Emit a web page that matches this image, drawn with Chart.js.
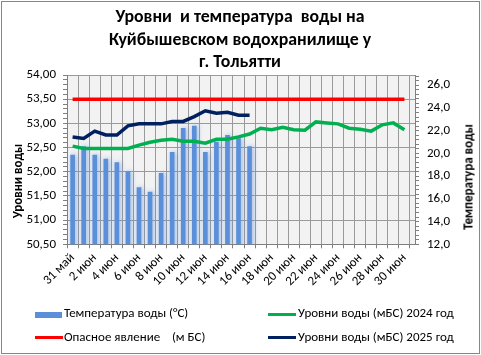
<!DOCTYPE html>
<html>
<head>
<meta charset="utf-8">
<script src="https://cdn.jsdelivr.net/npm/chart.js@4/dist/chart.umd.min.js"></script>
<style>
  html, body { margin:0; padding:0; background:#fff; }
  #wrap { position:relative; width:481px; height:355px; overflow:hidden; font-family: Carlito, Roboto, "Liberation Sans", sans-serif; color:#000; }
  #c { position:absolute; left:0; top:0; }
  #frame { position:absolute; left:1px; top:1px; width:479px; height:353px; box-sizing:border-box; border:1px solid #868686; pointer-events:none; }
  .title { position:absolute; left:40px; width:400px; text-align:center; font-weight:bold; font-size:17.8px; line-height:22.5px; top:5px; white-space:nowrap; }
  .axt { position:absolute; font-weight:bold; font-size:13px; white-space:nowrap; transform:translate(-50%,-50%) rotate(-90deg); }
  .leg { position:absolute; font-size:13px; white-space:nowrap; line-height:16px; }
  .sw { position:absolute; }
</style>
</head>
<body>
<div id="wrap">
  <canvas id="c" width="481" height="355"></canvas>
  <div class="title">Уровни&nbsp; и температура&nbsp; воды на<br>Куйбышевском водохранилище у<br>г. Тольятти</div>
  <div class="axt" style="left:17px; top:181px;">Уровни воды</div>
  <div class="axt" style="left:468px; top:177px;">Температура воды</div>

  <div class="sw" style="left:35px; top:312px; width:27px; height:6px; background:#5b8fd9;"></div>
  <div class="leg" style="left:64px; top:305px;">Температура воды (°С)</div>
  <div class="sw" style="left:35px; top:336px; width:28px; height:3px; background:#ff0000;"></div>
  <div class="leg" style="left:64px; top:329px;">Опасное явление&nbsp;&nbsp;&nbsp; (м БС)</div>
  <div class="sw" style="left:268px; top:313px; width:28px; height:3px; background:#00b050;"></div>
  <div class="leg" style="left:298px; top:305px;">Уровни воды (мБС) 2024 год</div>
  <div class="sw" style="left:268px; top:336px; width:28px; height:3px; background:#002060;"></div>
  <div class="leg" style="left:298px; top:329px;">Уровни воды (мБС) 2025 год</div>
  <div id="frame"></div>
</div>
<script>
const categories = ['31 май','1 июн','2 июн','3 июн','4 июн','5 июн','6 июн','7 июн','8 июн','9 июн','10 июн',
  '11 июн','12 июн','13 июн','14 июн','15 июн','16 июн','17 июн','18 июн','19 июн','20 июн',
  '21 июн','22 июн','23 июн','24 июн','25 июн','26 июн','27 июн','28 июн','29 июн','30 июн'];
const temperature = [19.85, 20.6, 19.85, 19.5, 19.2, 18.4, 17.0, 16.6, 18.25, 20.1, 22.2, 22.4, 20.1, 21.0, 21.6, 21.3, 20.6];
const level2025 = [52.72, 52.69, 52.84, 52.76, 52.76, 52.95, 52.99, 52.99, 52.99, 53.04, 53.04, 53.14, 53.26, 53.21, 53.23, 53.17, 53.17];
const level2024 = [52.53, 52.48, 52.48, 52.48, 52.48, 52.48, 52.55, 52.61, 52.65, 52.67, 52.63, 52.63, 52.59, 52.67, 52.67,
  52.72, 52.78, 52.90, 52.87, 52.92, 52.87, 52.86, 53.03, 53.01, 52.99, 52.90, 52.88, 52.84, 52.97, 53.01, 52.87];
const dangerLevel = 53.5;
const dangerSeries = categories.map(() => dangerLevel);
const levelTickLabels = ['50,50','51,00','51,50','52,00','52,50','53,00','53,50','54,00'];
const tempTickLabels = ['12,0','14,0','16,0','18,0','20,0','22,0','24,0','26,0'];

const FONT = 'Carlito, Roboto, "Liberation Sans", sans-serif';
const pts = arr => arr.map((v, i) => ({x: i, y: v}));
const near = (a, b) => Math.abs(a - b) < 1e-6;

const plotBg = {
  id: 'plotBg',
  beforeDraw(chart) {
    const {ctx, chartArea: a} = chart;
    ctx.save();
    ctx.fillStyle = '#ffffff';
    ctx.fillRect(0, 0, chart.width, chart.height);
    ctx.fillStyle = '#f2f2f2';
    ctx.fillRect(a.left, a.top, a.right - a.left, a.bottom - a.top);
    ctx.restore();
  },
  beforeDatasetDraw(chart, args) {
    if (chart.data.datasets[args.index].type === 'bar') {
      const ctx = chart.ctx;
      ctx.save();
      ctx.shadowColor = 'rgba(91,143,217,0.6)';
      ctx.shadowBlur = 5;
      ctx.shadowOffsetX = 1.5;
    }
  },
  afterDatasetDraw(chart, args) {
    if (chart.data.datasets[args.index].type === 'bar') chart.ctx.restore();
  }
};

new Chart(document.getElementById('c'), {
  data: {
    datasets: [
      { type:'line', label:'Опасное явление (м БС)', data: pts(dangerSeries), yAxisID:'y', borderColor:'#ff0000', borderWidth:3.5, pointRadius:0, tension:0, order:3 },
      { type:'line', label:'Уровни воды (мБС) 2024 год', data: pts(level2024), yAxisID:'y', borderColor:'#00b050', borderWidth:3.5, pointRadius:0, tension:0, order:2 },
      { type:'line', label:'Уровни воды (мБС) 2025 год', data: pts(level2025), yAxisID:'y', borderColor:'#002060', borderWidth:3.5, pointRadius:0, tension:0, order:1 },
      { type:'bar', label:'Температура воды (°С)', data: pts(temperature), yAxisID:'y2', backgroundColor:'#5b8fd9', barThickness:4, order:10 }
    ]
  },
  options: {
    responsive:false,
    animation:false,
    layout:{ padding:{ left:0, right:0, top:75, bottom:0 } },
    plugins:{ legend:{display:false}, title:{display:false}, tooltip:{enabled:false} },
    scales:{
      x:{
        type:'linear', min:0, max:30.45,
        afterBuildTicks: s => { s.ticks = categories.map((_, i) => ({value:i})); },
        afterFit: s => { s.height = 110.7; },
        ticks:{ autoSkip:false, minRotation:45, maxRotation:45, padding:2, color:'#000',
          font:{family:FONT, size:13},
          callback:(v, i) => (i % 2 === 0 ? categories[i] : '') },
        grid:{ color:'#9a9a9a', tickColor:'#7f7f7f', tickLength:4, lineWidth:1 },
        border:{ color:'#7f7f7f' }
      },
      y:{
        type:'linear', position:'left', min:50.5, max:54,
        afterBuildTicks: s => { const t=[]; for (let k=0;k<=35;k++) t.push({value: Math.round((50.5 + k*0.1)*100)/100}); s.ticks=t; },
        afterFit: s => { s.width = 67; },
        ticks:{ autoSkip:false, padding:7, color:'#000', font:{family:FONT, size:13},
          callback:(v) => { const k=(v-50.5)/0.5; return near(k, Math.round(k)) ? levelTickLabels[Math.round(k)] : ''; } },
        grid:{ color: c => { const k=(c.tick.value-50.5)/0.5; return near(k, Math.round(k)) ? '#9a9a9a' : 'rgba(0,0,0,0)'; },
          tickColor:'#7f7f7f', tickLength:4 },
        border:{ color:'#7f7f7f' }
      },
      y2:{
        type:'linear', position:'right', min:12, max:26.9,
        afterBuildTicks: s => { const t=[]; for (let k=0;k<=37;k++) t.push({value: Math.round((12 + k*0.4)*100)/100}); s.ticks=t; },
        afterFit: s => { s.width = 66; },
        ticks:{ autoSkip:false, padding:8, color:'#000', font:{family:FONT, size:13},
          callback:(v) => { const k=(v-12)/2; return near(k, Math.round(k)) ? tempTickLabels[Math.round(k)] : ''; } },
        grid:{ drawOnChartArea:false, tickColor:'#7f7f7f', tickLength:4 },
        border:{ color:'#7f7f7f' }
      }
    }
  },
  plugins:[plotBg]
});
</script>
</body>
</html>
